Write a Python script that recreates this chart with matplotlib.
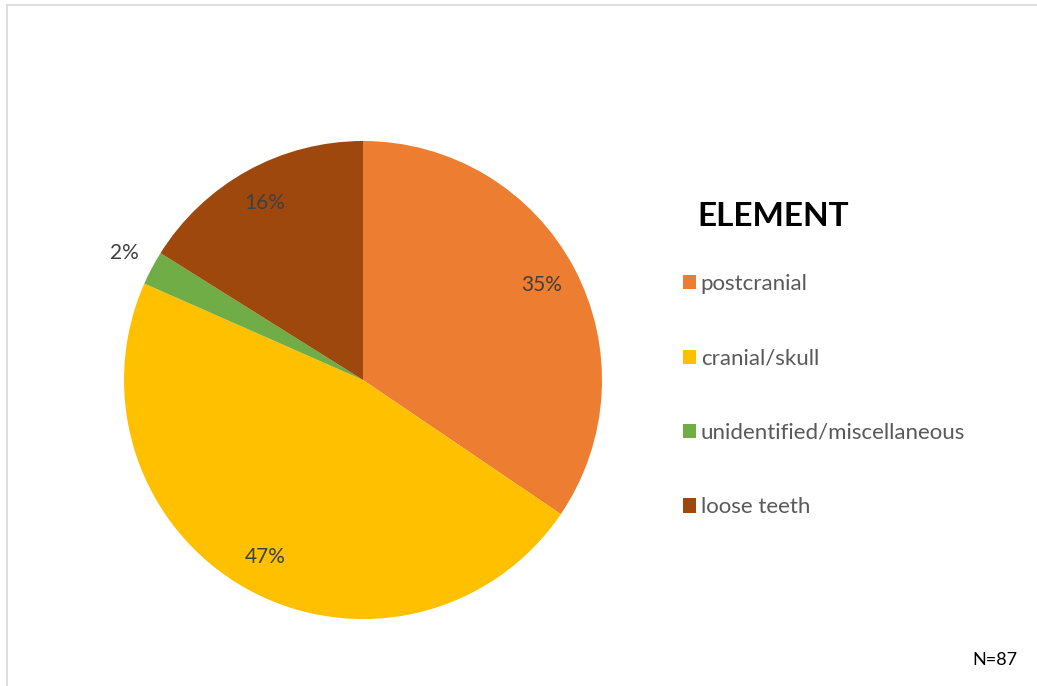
import numpy as np
import matplotlib
matplotlib.use("Agg")
import matplotlib.pyplot as plt
from matplotlib.patches import Patch
from matplotlib.lines import Line2D

plt.rcParams['font.family'] = ['Lato', 'DejaVu Sans']

# data (N=87)
categories = ["postcranial", "cranial/skull", "unidentified/miscellaneous", "loose teeth"]
counts = [30, 41, 2, 14]
pct_labels = ["35%", "47%", "2%", "16%"]
colors = ["#ED7D31", "#FFC000", "#70AD47", "#9E480E"]
legend_title = "ELEMENT"
note = "N=87"

W, H = 1037, 686
fig = plt.figure(figsize=(W / 100, H / 100), dpi=100)

# pie: centre (363, 380) px, radius ~239 px
r_px = 239
cx, cy = 363, 380
ax = fig.add_axes([(cx - r_px) / W, 1 - (cy + r_px) / H, 2 * r_px / W, 2 * r_px / H])
wedges, _ = ax.pie(counts, colors=colors, startangle=90, counterclock=False,
                   radius=1.0, wedgeprops=dict(linewidth=0))
ax.set_xlim(-1, 1)
ax.set_ylim(-1, 1)
ax.set_aspect('equal')
ax.axis('off')

# percentage labels, inside except the small slice
for w, lab in zip(wedges, pct_labels):
    mid = np.deg2rad((w.theta1 + w.theta2) / 2)
    dist = 1.13 if lab == "2%" else 0.845
    ax.text(dist * np.cos(mid), dist * np.sin(mid), lab, ha='center', va='center',
            fontsize=15, color='#404040', clip_on=False)

# legend title drawn on its own, then the entries
fig.text(697 / W, 1 - 216 / H, legend_title, ha='left', va='center',
         fontsize=24, fontweight='bold', color='black')
handles = [Patch(facecolor=c, edgecolor='none') for c in colors]
leg = fig.legend(handles, categories, loc='upper left',
                 bbox_to_anchor=(683 / W, 1 - 274 / H), frameon=False,
                 borderpad=0, borderaxespad=0,
                 fontsize=16, handlelength=0.6, handleheight=0.6,
                 handletextpad=0.2, labelspacing=2.45)
for t in leg.get_texts():
    t.set_color('#595959')

fig.text(995 / W, 1 - 660 / H, note, ha='center', va='center', fontsize=13, color='black')

# chart frame edges (top and left only)
fig.add_artist(Line2D([6.5 / W, 6.5 / W], [0, 1 - 4.5 / H], transform=fig.transFigure,
                      color='#D9D9D9', linewidth=1.2))
fig.add_artist(Line2D([6.5 / W, 1], [1 - 4.5 / H, 1 - 4.5 / H], transform=fig.transFigure,
                      color='#D9D9D9', linewidth=1.2))

fig.savefig("out.png", dpi=100, facecolor='white')
